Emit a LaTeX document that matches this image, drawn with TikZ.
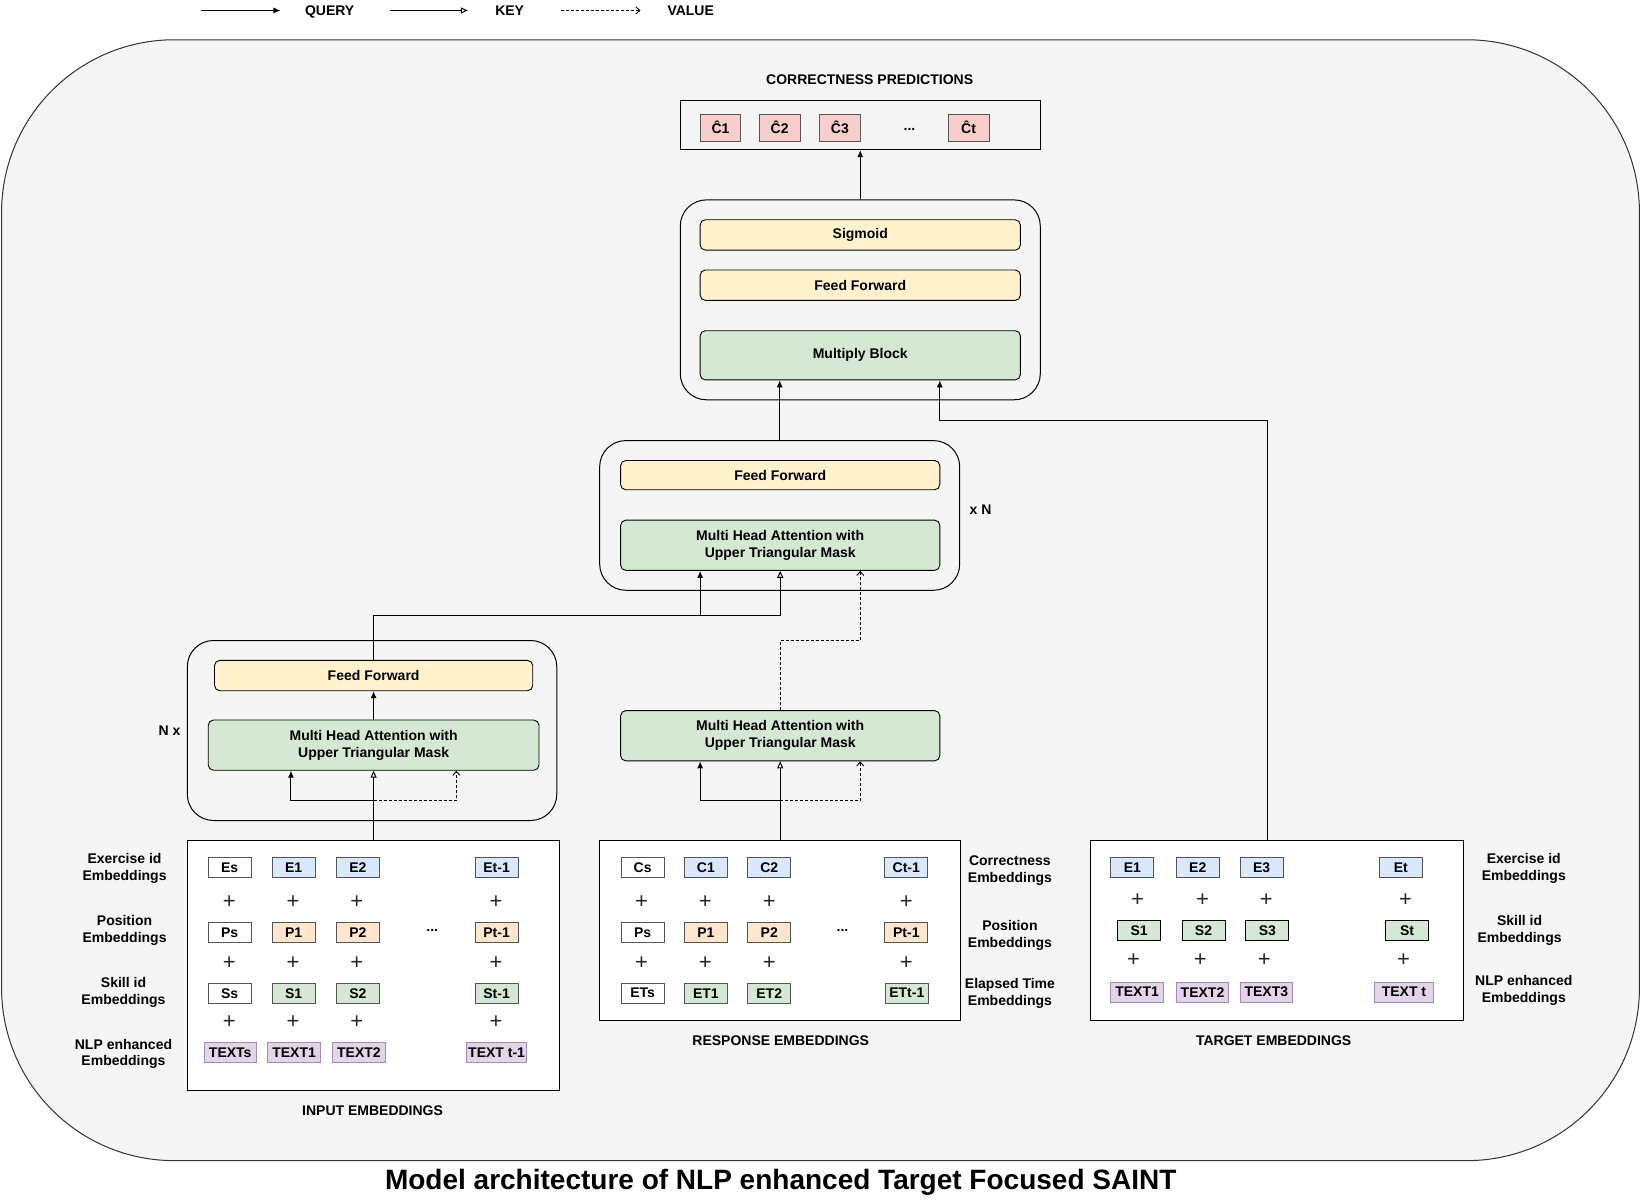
\documentclass[tikz,border=0pt]{standalone}
\usepackage{fontspec}
\setmainfont{Liberation Sans}
\usetikzlibrary{arrows.meta,calc}
\definecolor{bg}{HTML}{F5F5F5}
\definecolor{yel}{HTML}{FFF2CC}
\definecolor{grn}{HTML}{D5E8D4}
\definecolor{blu}{HTML}{DAE8FC}
\definecolor{org}{HTML}{FFE6CC}
\definecolor{pur}{HTML}{E1D5E7}
\definecolor{purd}{HTML}{A68BBA}
\definecolor{pnk}{HTML}{F8CECC}
\definecolor{edge}{HTML}{333333}
\definecolor{sedge}{HTML}{555555}
\def\k{1.0466}
\newcommand\lf{\bfseries\fontsize{14}{16.8}\selectfont}
\begin{document}
\begin{tikzpicture}[x=1.0466pt,y=-1.0466pt,
  every node/.style={inner sep=0pt},
  txt/.style={font=\lf, align=center},
  pl/.style={font=\fontsize{22}{22}\selectfont, text=black!85},
  cont/.style={draw=black, line width=1pt, rounded corners=\k*25pt},
  layer/.style={draw=black, line width=0.9pt, rounded corners=\k*5pt, align=center, font=\lf},
  ffbox/.style={layer, fill=yel},
  mhbox/.style={layer, fill=grn},
  emb/.style={draw=sedge, line width=1pt, minimum width=\k*41pt, minimum height=\k*19pt, font=\lf},
  ew/.style={emb, fill=white},
  eb/.style={emb, fill=blu},
  eo/.style={emb, fill=org},
  eg/.style={emb, fill=grn},
  ep/.style={emb, draw=purd, fill=pur, minimum width=\k*50pt},
  ec/.style={emb, fill=pnk, minimum width=\k*39pt, minimum height=\k*26pt},
  ebox/.style={draw=black, line width=1pt, fill=white},
  q/.style={line width=1pt, -{Latex[length=7pt,width=6pt]}},
  ky/.style={line width=1pt, -{Triangle[open,length=7pt,width=6pt]}},
  vl/.style={line width=0.9pt, dash pattern=on 3pt off 2pt, -{Straight Barb[length=4pt,width=7pt]}},
]
\useasboundingbox (0,0) rectangle (1568,1147.5);
\fill[white] (0,0) rectangle (1568,1147.5);

% outer container
\node[draw=edge, fill=bg, line width=1pt, rounded corners=\k*165pt, minimum width=\k*1565pt, minimum height=\k*1071pt] (outer) at (784,573.5) {};

% legend
\coordinate (l1a) at (192,10); \coordinate (l1b) at (268,10);
\coordinate (l2a) at (373,10); \coordinate (l2b) at (447,10);
\coordinate (l3a) at (536,10); \coordinate (l3b) at (612,10);
\draw[q] (l1a) -- (l1b);
\draw[ky] (l2a) -- (l2b);
\draw[vl] (l3a) -- (l3b);
\node[txt] (lgq) at (315,11.5) {QUERY};
\node[txt] (lgk) at (487,10) {KEY};
\node[txt] (lgv) at (660,10) {VALUE};

% output
\node[txt] (cplab) at (831,76) {CORRECTNESS PREDICTIONS};
\node[draw=black, line width=1pt, minimum width=\k*344pt, minimum height=\k*47pt] (outbox) at (822,119.5) {};
\node[ec] (c1) at (688.5,122) {Ĉ1};
\node[ec] (c2) at (745,122) {Ĉ2};
\node[ec] (c3) at (802.5,122) {Ĉ3};
\node[txt] (cdots) at (869,124) {...};
\node[ec] (ct) at (925.5,122) {Ĉt};

% top block
\node[cont, minimum width=\k*344pt, minimum height=\k*191pt] (topb) at (822,286.5) {};
\node[ffbox, minimum width=\k*306pt, minimum height=\k*29pt] (sig) at (822,224.5) {Sigmoid};
\node[ffbox, minimum width=\k*306pt, minimum height=\k*29pt] (ff3) at (822,272.5) {Feed Forward};
\node[mhbox, minimum width=\k*306pt, minimum height=\k*47pt] (mult) at (822,339.5) {Multiply Block};

% middle block
\node[cont, minimum width=\k*344pt, minimum height=\k*143pt] (midb) at (745,492.5) {};
\node[ffbox, minimum width=\k*305pt, minimum height=\k*28pt] (ff2) at (745.5,454) {Feed Forward};
\node[mhbox, minimum width=\k*305pt, minimum height=\k*48pt] (mha2) at (745.5,521) {Multi Head Attention with\\ Upper Triangular Mask};
\node[txt] (xn) at (937,487) {x N};

% left block
\node[cont, minimum width=\k*353pt, minimum height=\k*172pt] (leftb) at (355.5,698) {};
\node[ffbox, minimum width=\k*304pt, minimum height=\k*29pt] (ff1) at (357,645.5) {Feed Forward};
\node[mhbox, minimum width=\k*316pt, minimum height=\k*48pt] (mha1) at (357,712) {Multi Head Attention with\\ Upper Triangular Mask};
\node[txt] (nx) at (162,698) {N x};

% response MHA
\node[mhbox, minimum width=\k*305pt, minimum height=\k*48pt] (mha3) at (745.5,703) {Multi Head Attention with\\ Upper Triangular Mask};

% embedding boxes
\node[ebox, minimum width=\k*356pt, minimum height=\k*239pt] (inp) at (357,922.5) {};
\node[ebox, minimum width=\k*345pt, minimum height=\k*172pt] (resp) at (745.5,889) {};
\node[ebox, minimum width=\k*356pt, minimum height=\k*172pt] (tgt) at (1220,889) {};
\node[txt] (inplab) at (356,1061) {INPUT EMBEDDINGS};
\node[txt] (resplab) at (746,994) {RESPONSE EMBEDDINGS};
\node[txt] (tgtlab) at (1217,994) {TARGET EMBEDDINGS};

% input embeddings
\node[ew] (iE0) at (219.5,829) {Es};
\node[eb] (iE1) at (280.5,829) {E1};
\node[eb] (iE2) at (342,829) {E2};
\node[eb] (iE3) at (474.5,829) {Et-1};
\node[ew] (iP0) at (219.5,891) {Ps};
\node[eo] (iP1) at (280.5,891) {P1};
\node[eo] (iP2) at (342,891) {P2};
\node[eo] (iP3) at (474.5,891) {Pt-1};
\node[txt] (idots) at (413,889) {...};
\node[ew] (iS0) at (219.5,949) {Ss};
\node[eg] (iS1) at (280.5,949) {S1};
\node[eg] (iS2) at (342,949) {S2};
\node[eg] (iS3) at (474.5,949) {St-1};
\node[ep] (iT0) at (220,1006) {TEXTs};
\node[ep] (iT1) at (281,1006) {TEXT1};
\node[ep] (iT2) at (343,1006) {TEXT2};
\node[ep, minimum width=\k*57pt] (iT3) at (474.5,1006) {TEXT t-1};
\foreach \y [count=\r] in {862,920,977}{
  \foreach \x [count=\c] in {219,280,341,474}{
    \node[pl] (ip\r\c) at (\x,\y) {+};
  }
}
\node[txt] (lab1) at (119,830) {Exercise id\\Embeddings};
\node[txt] (lab2) at (119,889) {Position\\Embeddings};
\node[txt] (lab3) at (118,948) {Skill id\\Embeddings};
\node[txt] (lab4) at (118,1007) {NLP enhanced\\Embeddings};

% response embeddings
\node[ew] (rC0) at (614,829) {Cs};
\node[eb] (rC1) at (674.5,829) {C1};
\node[eb] (rC2) at (735,829) {C2};
\node[eb] (rC3) at (866,829) {Ct-1};
\node[ew] (rP0) at (614,891) {Ps};
\node[eo] (rP1) at (674.5,891) {P1};
\node[eo] (rP2) at (735,891) {P2};
\node[eo] (rP3) at (866,891) {Pt-1};
\node[txt] (rdots) at (805,889) {...};
\node[ew] (rT0) at (614,949) {ETs};
\node[eg] (rT1) at (674.5,949) {ET1};
\node[eg] (rT2) at (735,949) {ET2};
\node[eg] (rT3) at (866.5,949) {ETt-1};
\foreach \y [count=\r] in {862,920}{
  \foreach \x [count=\c] in {613,674,735,866}{
    \node[pl] (rp\r\c) at (\x,\y) {+};
  }
}
\node[txt] (rlab1) at (965,832) {Correctness\\Embeddings};
\node[txt] (rlab2) at (965,894) {Position\\Embeddings};
\node[txt] (rlab3) at (965,949) {Elapsed Time\\Embeddings};

% target embeddings
\node[eb] (tE1) at (1082,829) {E1};
\node[eb] (tE2) at (1144.5,829) {E2};
\node[eb] (tE3) at (1205.5,829) {E3};
\node[eb] (tE4) at (1338.5,829) {Et};
\node[eg, draw=black] (tS1) at (1088.5,889) {S1};
\node[eg, draw=black] (tS2) at (1150,889) {S2};
\node[eg, draw=black] (tS3) at (1211,889) {S3};
\node[eg, draw=black] (tS4) at (1344.5,889) {St};
\node[ep] (tT1) at (1086.5,948) {TEXT1};
\node[ep] (tT2) at (1149,948) {TEXT2};
\node[ep] (tT3) at (1210,948) {TEXT3};
\node[ep, minimum width=\k*57pt] (tT4) at (1341.5,948) {TEXT t};
\foreach \x [count=\c] in {1087,1149,1210,1343}{
  \node[pl] (tpa\c) at (\x,860) {+};
}
\foreach \x [count=\c] in {1083,1147,1208,1341}{
  \node[pl] (tpb\c) at (\x,917) {+};
}
\node[txt] (tlab1) at (1456,830) {Exercise id\\Embeddings};
\node[txt] (tlab2) at (1452,889) {Skill id\\Embeddings};
\node[txt] (tlab3) at (1456,946) {NLP enhanced\\Embeddings};

% connectors
\draw[q] (topb.north) -- (outbox.south);
\draw[q] (midb.north) -- (midb.north |- mult.south);
\coordinate (tgtout) at (1211,803);
\coordinate (tj) at (898,402);
\draw[q] (tgtout) |- (tj) -- (tj |- mult.south);

\coordinate (e1) at (745.5,588);
\coordinate (e2) at (669,588);
\draw[ky] (ff1.north) |- (e1) -- (e1 |- mha2.south);
\draw[q] (e2) -- (e2 |- mha2.south);
\coordinate (v1) at (822,612);
\draw[vl] (mha3.north) |- (v1) -- (v1 |- mha2.south);

\draw[q] (mha1.north) -- (ff1.south);
\coordinate (i0) at (357,765);
\coordinate (iq) at (278,765);
\coordinate (iv) at (436,765);
\draw[ky] (inp.north) -- (inp.north |- mha1.south);
\draw[q] (i0) -- (iq) -- (iq |- mha1.south);
\draw[vl] (i0) -- (iv) -- (iv |- mha1.south);

\coordinate (r0) at (745.5,765);
\coordinate (rq) at (669,765);
\coordinate (rv) at (822,765);
\draw[ky] (resp.north) -- (resp.north |- mha3.south);
\draw[q] (r0) -- (rq) -- (rq |- mha3.south);
\draw[vl] (r0) -- (rv) -- (rv |- mha3.south);

% caption
\node[font=\bfseries\fontsize{28}{30}\selectfont] (cap) at (746,1130) {Model architecture of NLP enhanced Target Focused SAINT};
\end{tikzpicture}
\end{document}
